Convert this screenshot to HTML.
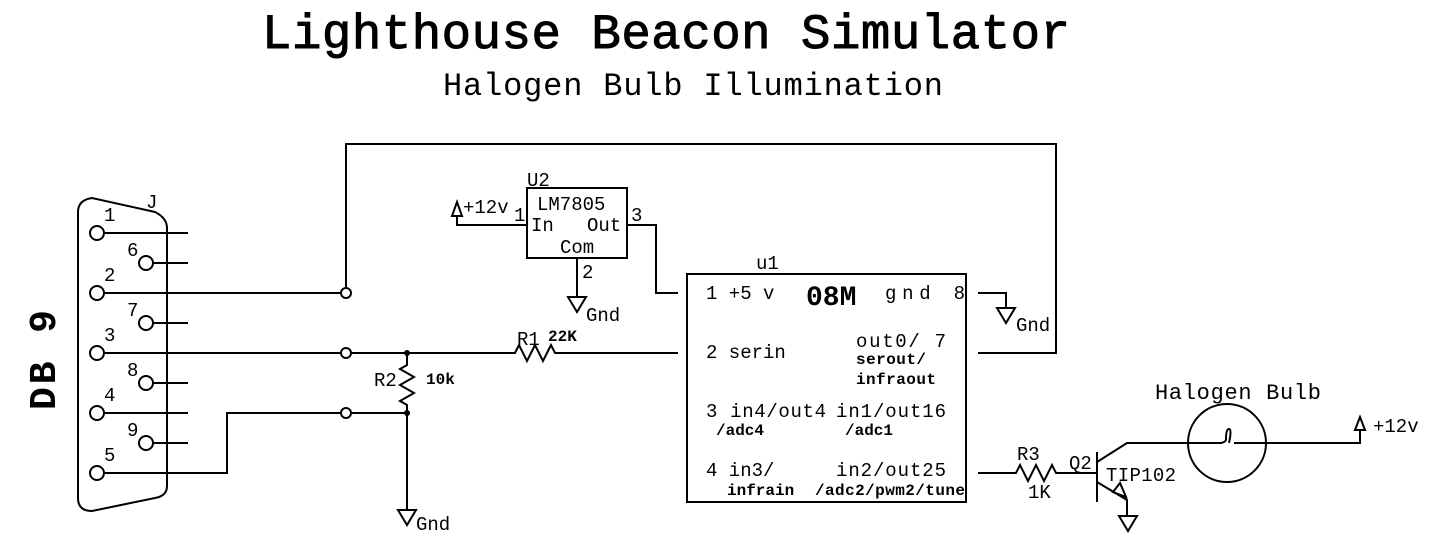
<!DOCTYPE html>
<html><head><meta charset="utf-8"><style>
html,body{margin:0;padding:0;background:#fff;}
svg{display:block;}
text{font-family:"Liberation Mono","DejaVu Sans Mono",monospace;fill:#000;}
.t{font-size:19px;}
.s{font-size:16px;font-weight:bold;}
</style></head><body>
<svg width="1455" height="545" viewBox="0 0 1455 545" xmlns="http://www.w3.org/2000/svg">
<g stroke="#000" stroke-width="2" fill="none">
<path d="M78,212 Q78,200 92,198 L155,212 Q167,218 167,228 L167,486 Q167,496 155,498 L92,511 Q78,511 78,498 Z"/>
<circle cx="97" cy="233" r="7"/><circle cx="97" cy="293" r="7"/><circle cx="97" cy="353" r="7"/><circle cx="97" cy="413" r="7"/><circle cx="97" cy="473" r="7"/>
<circle cx="146" cy="263" r="7"/><circle cx="146" cy="323" r="7"/><circle cx="146" cy="383" r="7"/><circle cx="146" cy="443" r="7"/>
<path d="M104,233H188M153,263H188M153,323H188M153,383H188M104,413H188M153,443H188"/>
<path d="M104,293H340M346,287V144H1056V353H978"/>
<circle cx="346" cy="293" r="5"/>
<path d="M104,353H340M352,353H515l4,-8l8,16l8,-16l8,16l8,-16l4,8H678"/>
<circle cx="346" cy="353" r="5"/>
<path d="M407,353V365l-7,4l14,8l-14,8l14,8l-14,8l7,4V510"/>
<path d="M398,510H416L407,525Z"/>
<path d="M104,473H227V413H340M352,413H407"/>
<circle cx="346" cy="413" r="5"/>
<rect x="527" y="188" width="100" height="70"/>
<path d="M457,216V225H527M627,225H656V293H678"/>
<path d="M452,216H462L457,202Z"/>
<path d="M577,258V297M568,297H586L577,312Z"/>
<rect x="687" y="274" width="279" height="228"/>
<path d="M978,293H1006V308M997,308H1015L1006,323Z"/>
<path d="M978,473H1016l4,-8l8,16l8,-16l8,16l8,-16l4,8H1097"/>
<path d="M1097,452V502M1097,462L1127,443H1222M1234,443H1360V430"/>
<circle cx="1227" cy="443" r="39"/>
<path d="M1218,443 q8,0 8,-4 q0,-10 3,-10 q3,0 0,14"/>
<path d="M1355,430H1365L1360,417Z"/>
<path d="M1097,482L1127,500V516M1119,516H1137L1128,531Z"/>
<path d="M1113,492L1120,483L1126,497Z"/>
</g>
<circle cx="407" cy="353" r="3"/><circle cx="407" cy="413" r="3"/>
<text x="262" y="48" style="font-size:49px;stroke:#000;stroke-width:1px;" textLength="808">Lighthouse Beacon Simulator</text>
<text x="443" y="95" style="font-size:32px;" textLength="500">Halogen Bulb Illumination</text>
<text transform="translate(55,410) rotate(-90)" style="font-size:38px;font-weight:bold;" textLength="100">DB 9</text>
<text x="146" y="208" class="t">J</text>
<text x="104" y="221" class="t">1</text><text x="127" y="256" class="t">6</text>
<text x="104" y="281" class="t">2</text><text x="127" y="316" class="t">7</text>
<text x="104" y="341" class="t">3</text><text x="127" y="376" class="t">8</text>
<text x="104" y="401" class="t">4</text><text x="127" y="436" class="t">9</text>
<text x="104" y="461" class="t">5</text>
<text x="517" y="345" class="t">R1</text><text x="548" y="341" class="s">22K</text>
<text x="374" y="386" class="t">R2</text><text x="426" y="384" class="s">10k</text>
<text x="416" y="530" class="t">Gnd</text>
<text x="527" y="186" class="t">U2</text>
<text x="463" y="213" class="t">+12v</text><text x="514" y="221" class="t">1</text>
<text x="537" y="210" class="t">LM7805</text>
<text x="531" y="231" class="t">In</text><text x="587" y="231" class="t">Out</text>
<text x="560" y="253" class="t">Com</text>
<text x="631" y="221" class="t">3</text>
<text x="582" y="278" class="t">2</text>
<text x="586" y="321" class="t">Gnd</text>
<text x="756" y="269" class="t">u1</text>
<text x="706" y="299" class="t">1 +5 v</text>
<text x="806" y="305" style="font-size:28px;font-weight:bold;">08M</text>
<text x="885" y="299" class="t" textLength="80">gnd 8</text>
<text x="706" y="358" class="t">2 serin</text>
<text x="856" y="347" class="t" textLength="90">out0/ 7</text>
<text x="856" y="364" class="s" textLength="70">serout/</text>
<text x="856" y="384" class="s" textLength="80">infraout</text>
<text x="706" y="417" class="t" textLength="120">3 in4/out4</text>
<text x="836" y="417" class="t" textLength="110">in1/out16</text>
<text x="716" y="435" class="s">/adc4</text>
<text x="845" y="435" class="s">/adc1</text>
<text x="706" y="476" class="t">4 in3/</text>
<text x="836" y="476" class="t" textLength="110">in2/out25</text>
<text x="727" y="495" class="s">infrain</text>
<text x="815" y="495" class="s" textLength="150">/adc2/pwm2/tune</text>
<text x="1017" y="460" class="t">R3</text>
<text x="1028" y="498" class="t">1K</text>
<text x="1069" y="469" class="t">Q2</text>
<text x="1106" y="481" class="t" textLength="70">TIP102</text>
<text x="1155" y="399" style="font-size:22px;" textLength="166">Halogen Bulb</text>
<text x="1373" y="432" class="t">+12v</text>
<text x="1016" y="331" class="t">Gnd</text>
</svg>
</body></html>
